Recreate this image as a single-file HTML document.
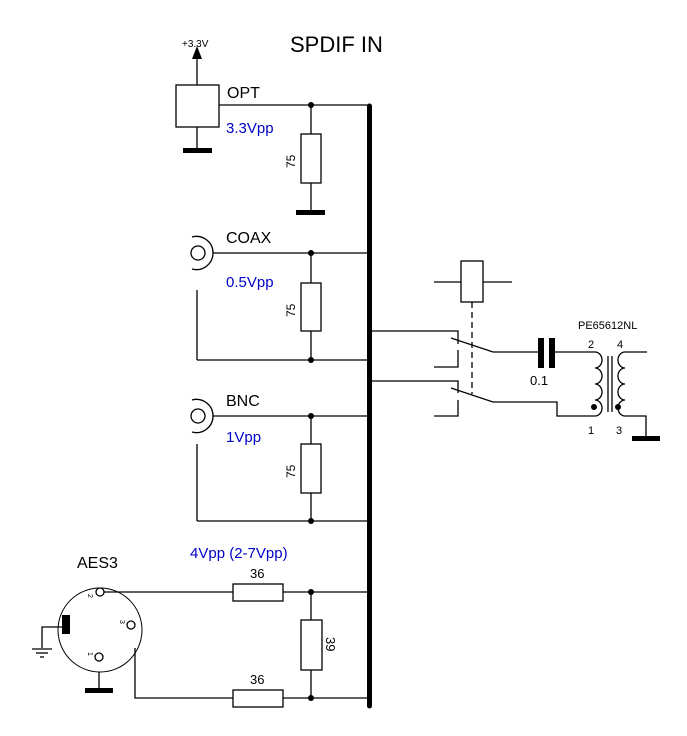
<!DOCTYPE html>
<html><head><meta charset="utf-8"><style>
html,body{margin:0;padding:0;background:#fff;}
svg{display:block;font-family:"Liberation Sans",sans-serif;}
</style></head><body>
<svg width="687" height="736" viewBox="0 0 687 736" xmlns="http://www.w3.org/2000/svg">
<g stroke="#000" stroke-width="1.3" fill="none">
<line x1="369.5" y1="106" x2="369.5" y2="706" stroke-width="5" stroke-linecap="round"/>
<rect x="176" y="85" width="43" height="42" fill="#fff"/>
<line x1="197" y1="85" x2="197" y2="58"/>
<line x1="197" y1="127" x2="197" y2="150"/>
<line x1="219" y1="105" x2="369" y2="105"/>
<line x1="311" y1="105" x2="311" y2="212"/>
<rect x="301" y="134" width="20" height="49" fill="#fff"/>
<circle cx="198" cy="253" r="7"/>
<path d="M192 237 A16.6 16.6 0 1 1 192 269"/>
<line x1="213" y1="253" x2="369" y2="253"/>
<line x1="197" y1="290" x2="197" y2="360"/>
<line x1="197" y1="360" x2="369" y2="360"/>
<line x1="311" y1="253" x2="311" y2="360"/>
<rect x="301" y="283" width="20" height="48" fill="#fff"/>
<circle cx="198" cy="416" r="7"/>
<path d="M192 400 A16.6 16.6 0 1 1 192 432"/>
<line x1="213" y1="416" x2="369" y2="416"/>
<line x1="197" y1="444" x2="197" y2="521"/>
<line x1="197" y1="521" x2="369" y2="521"/>
<line x1="311" y1="416" x2="311" y2="521"/>
<rect x="301" y="444" width="20" height="49" fill="#fff"/>
<polyline points="369,331 458,331 458,344"/>
<polyline points="458,350 458,367 434,367"/>
<polyline points="451,338 493,352 541,352"/>
<polyline points="369,381 458,381 458,393"/>
<polyline points="458,400 458,416 434,416"/>
<polyline points="451,388 493,402 557,402 557,416 595,416"/>
<line x1="472" y1="302" x2="472" y2="394" stroke-dasharray="6,4"/>
<rect x="461" y="261" width="22" height="41"/>
<line x1="434" y1="282" x2="461" y2="282"/>
<line x1="483" y1="282" x2="512" y2="282"/>
<line x1="554" y1="352" x2="595" y2="352"/>
<path d="M595 352 a7 8 0 0 1 0 16 a7 8 0 0 1 0 16 a7 8 0 0 1 0 16 a7 8 0 0 1 0 16"/>
<line x1="608" y1="356" x2="608" y2="412"/>
<line x1="612" y1="356" x2="612" y2="412"/>
<path d="M625 352 a7 8 0 0 0 0 16 a7 8 0 0 0 0 16 a7 8 0 0 0 0 16 a7 8 0 0 0 0 16"/>
<line x1="625" y1="352" x2="647" y2="352"/>
<polyline points="625,416 646,416 646,438"/>
<circle cx="100" cy="630" r="42" stroke-width="1"/>
<circle cx="100" cy="592" r="4"/>
<circle cx="131" cy="625" r="4"/>
<circle cx="99" cy="657" r="4"/>
<polyline points="64,627 42,627 42,648"/>
<line x1="32" y1="649" x2="52" y2="649"/>
<line x1="36" y1="653" x2="48" y2="653"/>
<line x1="40" y1="657" x2="44" y2="657"/>
<line x1="99" y1="672" x2="99" y2="690"/>
<line x1="104" y1="592" x2="369" y2="592"/>
<polyline points="135,648 135,698 369,698"/>
<rect x="233" y="584" width="50" height="17" fill="#fff"/>
<rect x="233" y="690" width="50" height="17" fill="#fff"/>
<line x1="311" y1="592" x2="311" y2="698"/>
<rect x="301" y="620" width="21" height="50" fill="#fff"/>
</g>
<g fill="#000">
<polygon points="197,46 192,59 202,59"/>
<rect x="183" y="148" width="29" height="5"/>
<rect x="296" y="210" width="29" height="5"/>
<rect x="632" y="436" width="28" height="5"/>
<rect x="85" y="688" width="28" height="5"/>
<rect x="62" y="615" width="8" height="19"/>
<rect x="538" y="338" width="6" height="30"/>
<rect x="549" y="338" width="6" height="30"/>
<circle cx="311" cy="105" r="3"/><circle cx="311" cy="253" r="3"/><circle cx="311" cy="360" r="3"/>
<circle cx="311" cy="416" r="3"/><circle cx="311" cy="521" r="3"/>
<circle cx="311" cy="592" r="3"/><circle cx="311" cy="698" r="3"/>
<circle cx="594" cy="407" r="3"/><circle cx="618" cy="407" r="3"/>
</g>
<g font-size="16">
<text x="290" y="52" font-size="22">SPDIF IN</text>
<text x="227" y="98">OPT</text>
<text x="226" y="243">COAX</text>
<text x="226" y="406">BNC</text>
<text x="77" y="568">AES3</text>
<g fill="#0000c8">
<text x="226" y="133" font-size="15">3.3Vpp</text>
<text x="226" y="287" font-size="15">0.5Vpp</text>
<text x="226" y="442" font-size="15">1Vpp</text>
<text x="190" y="558" font-size="15">4Vpp (2-7Vpp)</text>
</g>
<text x="182" y="47" font-size="10">+3.3V</text>
<text x="578" y="329" font-size="11">PE65612NL</text>
<text x="530" y="385" font-size="13">0.1</text>
<g font-size="11">
<text x="588" y="348">2</text><text x="617" y="348">4</text>
<text x="588" y="434">1</text><text x="616" y="434">3</text>
</g>
<text x="250" y="578" font-size="13">36</text>
<text x="250" y="684" font-size="13">36</text>
<text transform="translate(295,168) rotate(-90)" font-size="12">75</text>
<text transform="translate(295,317) rotate(-90)" font-size="12">75</text>
<text transform="translate(295,478) rotate(-90)" font-size="12">75</text>
<text transform="translate(326,637) rotate(90)" font-size="13">39</text>
<g font-size="7">
<text transform="translate(88,594) rotate(90)">2</text>
<text transform="translate(120,620) rotate(90)">3</text>
<text transform="translate(88,652) rotate(90)">1</text>
</g>
</g>
</svg>
</body></html>
